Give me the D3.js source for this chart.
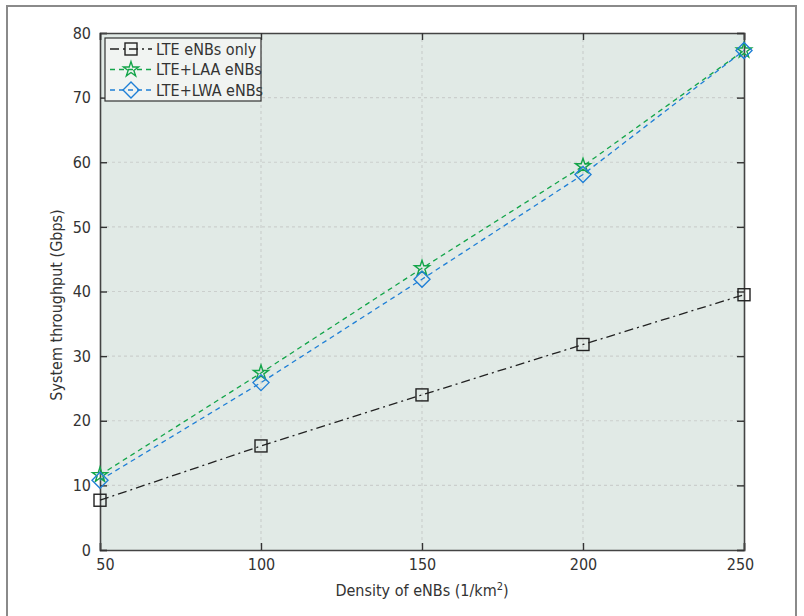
<!DOCTYPE html>
<html><head><meta charset="utf-8">
<script src="https://cdn.jsdelivr.net/npm/d3@7"></script>
<style>body{margin:0;background:#fff}text{font-family:"Liberation Sans Narrow","DejaVu Sans Condensed",Roboto,sans-serif;fill:#333}</style>
</head><body><svg id="c" width="804" height="616"></svg>
<script>
const xTicks = [50, 100, 150, 200, 250];
const yTicks = [0, 10, 20, 30, 40, 50, 60, 70, 80];
const density = [50, 100, 150, 200, 250];
const lteOnly = [7.7, 16.1, 24.0, 31.8, 39.5];
const lteLaa = [11.6, 27.4, 43.6, 59.4, 77.3];
const lteLwa = [10.8, 25.9, 41.9, 58.1, 77.3];
const seriesNames = ["LTE eNBs only", "LTE+LAA eNBs", "LTE+LWA eNBs"];
const FONT = '"Liberation Sans Narrow","DejaVu Sans Condensed",Roboto,sans-serif';

const svg = d3.select("#c");
const m = {l:100, r:744, t:33, b:550};
const x = d3.scaleLinear().domain([50,250]).range([m.l,m.r]);
const y = d3.scaleLinear().domain([0,80]).range([m.b,m.t]);

svg.append("rect").attr("x",7).attr("y",6).attr("width",789).attr("height",640)
  .attr("fill","#fff").attr("stroke","#8a8a8a").attr("stroke-width",2);

svg.append("rect").attr("x",m.l).attr("y",m.t).attr("width",m.r-m.l).attr("height",m.b-m.t)
  .attr("fill","#e1eae6");

const g = svg.append("g");
g.selectAll(".gx").data(xTicks.slice(1,-1)).join("line")
  .attr("x1",d=>x(d)).attr("x2",d=>x(d)).attr("y1",m.t).attr("y2",m.b)
  .attr("stroke","#cbcfcd").attr("stroke-dasharray","3,3").attr("stroke-width",1.2);
g.selectAll(".gy").data(yTicks.slice(1,-1)).join("line")
  .attr("y1",d=>y(d)).attr("y2",d=>y(d)).attr("x1",m.l).attr("x2",m.r)
  .attr("stroke","#cbcfcd").attr("stroke-dasharray","3,3").attr("stroke-width",1.2);

const axB = svg.append("g").attr("transform",`translate(0,${m.b})`)
  .call(d3.axisBottom(x).tickValues(xTicks).tickSize(-7).tickPadding(9));
const axL = svg.append("g").attr("transform",`translate(${m.l},0)`)
  .call(d3.axisLeft(y).tickValues(yTicks).tickSize(-7).tickPadding(9));
const axT = svg.append("g").attr("transform",`translate(0,${m.t})`)
  .call(d3.axisTop(x).tickValues(xTicks).tickSize(-7).tickFormat(""));
const axR = svg.append("g").attr("transform",`translate(${m.r},0)`)
  .call(d3.axisRight(y).tickValues(yTicks).tickSize(-7).tickFormat(""));
[axB,axL,axT,axR].forEach(a=>{
  a.selectAll("path").attr("stroke","#444").attr("stroke-width",1.6);
  a.selectAll("line").attr("stroke","#333").attr("stroke-width",1.4);
  a.selectAll("text").style("font-size","16px").attr("fill","#333").style("font-family",FONT);
});
axB.selectAll("text").attr("dx", (d,i)=> i===0? "5px" : i===xTicks.length-1 ? "-4px":"0");

const line = d3.line().x((d,i)=>x(density[i])).y(d=>y(d));
const series = [
  {v:lteOnly, c:"#222", dash:"9,4,2,4", mk:"square"},
  {v:lteLaa, c:"#14a54a", dash:"5,4", mk:"star"},
  {v:lteLwa, c:"#1f7fd6", dash:"5,4", mk:"diamond"}
];
function marker(sel, type, cx, cy, c){
  if(type==="square"){
    sel.append("rect").attr("x",cx-6).attr("y",cy-6).attr("width",12).attr("height",12)
      .attr("fill","none").attr("stroke",c).attr("stroke-width",1.4);
  } else if(type==="star"){
    sel.append("path").attr("d",d3.symbol(d3.symbolStar,70)()).attr("transform",`translate(${cx},${cy})`)
      .attr("fill","none").attr("stroke",c).attr("stroke-width",1.4);
  } else {
    sel.append("path").attr("d",`M0,-8L8,0L0,8L-8,0Z`).attr("transform",`translate(${cx},${cy})`)
      .attr("fill","none").attr("stroke",c).attr("stroke-width",1.4);
  }
}
series.forEach(s=>{
  svg.append("path").datum(s.v).attr("d",line).attr("fill","none")
    .attr("stroke",s.c).attr("stroke-width",1.3).attr("stroke-dasharray",s.dash);
});
series.forEach(s=>{
  s.v.forEach((v,i)=>marker(svg,s.mk,x(density[i]),y(v),s.c));
});

const lg = svg.append("g");
lg.append("rect").attr("x",105).attr("y",38).attr("width",156).attr("height",63)
  .attr("fill","#f1f4f2").attr("stroke","#333").attr("stroke-width",1.2);
series.forEach((s,i)=>{
  const yy = 49 + i*20.5;
  lg.append("line").attr("x1",110).attr("x2",152).attr("y1",yy).attr("y2",yy)
    .attr("stroke",s.c).attr("stroke-width",1.3).attr("stroke-dasharray",s.dash);
  marker(lg,s.mk,131,yy,s.c);
  lg.append("text").attr("x",156).attr("y",yy+5.5).style("font-size","16px").text(seriesNames[i]);
});

const xl = svg.append("text").attr("x",422).attr("y",596).attr("text-anchor","middle").style("font-size","16px");
xl.append("tspan").text("Density of eNBs (1/km");
xl.append("tspan").attr("dy",-6).style("font-size","11px").text("2");
xl.append("tspan").attr("dy",6).text(")");
svg.append("text").attr("transform","translate(62,305) rotate(-90)").attr("text-anchor","middle")
  .style("font-size","16px").text("System throughput (Gbps)");
</script></body></html>
